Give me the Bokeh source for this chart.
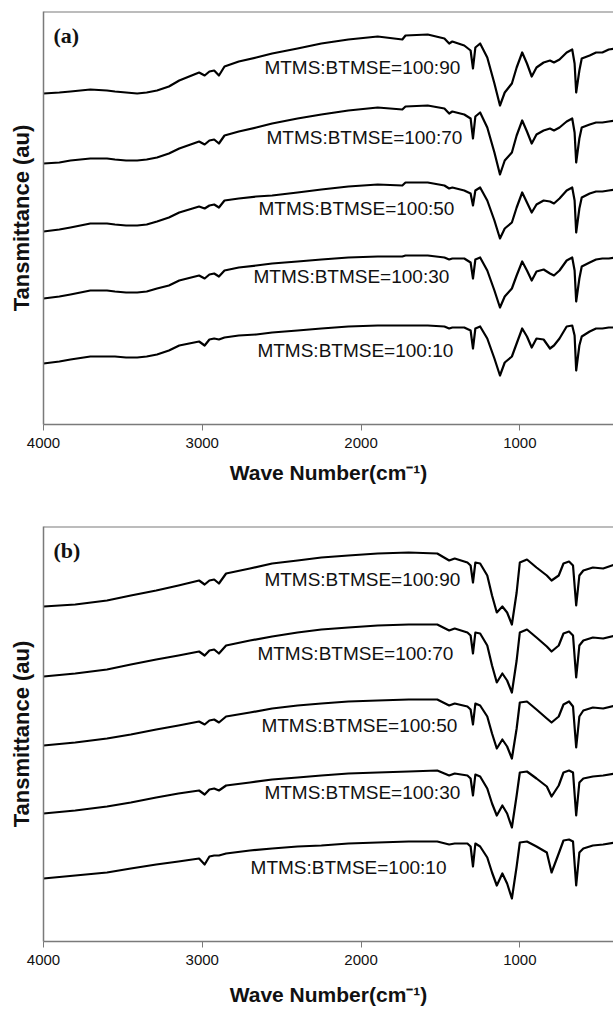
from bokeh.plotting import figure
from bokeh.models import Range1d, FixedTicker, Span, Label
from bokeh.layouts import column
from bokeh.embed import file_html
from bokeh.resources import INLINE

# ---------------- data ----------------
series_names = ["MTMS:BTMSE=100:90", "MTMS:BTMSE=100:70", "MTMS:BTMSE=100:50",
                "MTMS:BTMSE=100:30", "MTMS:BTMSE=100:10"]
x_ticks = [4000, 3000, 2000, 1000]

# panel (a): wave numbers (cm-1) and stacked transmittance (au)
wn_a = [4000, 3900, 3830, 3705, 3600, 3550, 3480, 3410, 3350, 3285, 3210, 3145, 3020,
        2985, 2955, 2925, 2895, 2860, 2770, 2660, 2560, 2400, 2250, 2080, 1895,
        1740, 1720, 1580, 1475, 1445, 1425, 1350, 1310, 1295, 1280, 1250, 1205, 1160,
        1125, 1095, 1050, 1020, 985, 955, 925, 895, 850, 810, 785, 750, 705, 670, 655,
        645, 625, 610, 560, 520, 480, 440, 400]
a_90 = [331, 332, 333, 335, 334, 333, 332, 331, 332, 334, 338, 344, 352, 349, 353, 354,
        349, 358, 363, 367, 371, 376, 381, 385, 388,
        385, 389, 390, 386, 381, 383, 379, 374, 356, 377, 381, 367, 341, 319, 332, 341,
        357, 372, 361, 348, 357, 362, 364, 362, 365, 372, 375, 361, 332, 354, 366, 369,
        372, 372, 375, 376]
a_70 = [261, 262, 264, 266, 266, 265, 264, 264, 265, 267, 271, 276, 283, 280, 284, 285,
        281, 289, 293, 297, 301, 306, 310, 314, 317,
        315, 318, 319, 316, 311, 313, 310, 306, 286, 308, 312, 297, 272, 250, 264, 272,
        289, 304, 293, 281, 290, 294, 296, 294, 297, 303, 306, 292, 262, 286, 297, 300,
        302, 302, 303, 304]
a_50 = [193, 195, 197, 201, 201, 200, 199, 199, 200, 203, 207, 212, 218, 216, 219, 220,
        217, 224, 226, 228, 229, 232, 235, 238, 240,
        239, 242, 242, 239, 236, 237, 234, 231, 219, 234, 237, 224, 204, 186, 196, 202,
        217, 232, 222, 212, 220, 224, 223, 221, 226, 234, 237, 224, 192, 216, 227, 231,
        233, 233, 234, 235]
a_30 = [126, 128, 130, 134, 134, 133, 132, 132, 133, 136, 139, 144, 149, 146, 150, 151,
        148, 154, 157, 159, 161, 163, 165, 167, 168,
        168, 169, 169, 167, 165, 166, 166, 162, 146, 165, 167, 154, 134, 117, 128, 136,
        149, 163, 154, 144, 153, 155, 151, 149, 154, 164, 167, 154, 123, 146, 158, 162,
        165, 166, 166, 167]
a_10 = [61, 63, 65, 68, 68, 68, 67, 67, 68, 70, 74, 79, 83, 79, 85, 86, 85, 87, 89, 90,
        92, 94, 96, 98, 99,
        99, 99, 99, 98, 96, 97, 97, 94, 76, 96, 98, 86, 66, 49, 62, 68, 81, 96, 88, 77,
        86, 85, 76, 79, 86, 98, 99, 89, 54, 79, 88, 93, 96, 96, 97, 97]

# panel (b)
wn_b = [4000, 3800, 3600, 3450, 3290, 3150, 3020, 2985, 2955, 2925, 2895, 2850, 2700,
        2560, 2400, 2250, 2080, 1895, 1700, 1520,
        1445, 1410, 1330, 1310, 1295, 1280, 1250, 1205, 1175, 1145, 1110, 1080, 1050,
        1020, 1000, 955, 895, 830, 800, 755, 725, 690, 665, 645, 625, 600, 540, 475, 400]
b_90 = [335, 337, 341, 346, 351, 356, 361, 357, 361, 362, 358, 368, 373, 378, 381, 384,
        386, 388, 389, 388,
        381, 383, 379, 376, 359, 379, 378, 366, 346, 329, 335, 329, 317, 349, 379, 382,
        374, 366, 361, 366, 378, 380, 376, 336, 366, 371, 374, 373, 377]
b_70 = [265, 268, 272, 277, 282, 286, 290, 286, 291, 292, 288, 296, 301, 305, 309, 312,
        314, 316, 317, 317,
        311, 313, 309, 306, 288, 309, 308, 296, 276, 259, 268, 261, 249, 281, 309, 312,
        304, 295, 290, 296, 308, 310, 306, 264, 296, 301, 304, 303, 306]
b_50 = [196, 199, 203, 207, 212, 216, 220, 217, 221, 222, 219, 225, 229, 233, 236, 238,
        240, 241, 242, 242,
        236, 238, 235, 232, 217, 238, 236, 225, 208, 193, 202, 195, 183, 213, 239, 240,
        232, 223, 219, 225, 237, 240, 235, 194, 225, 231, 234, 233, 236]
b_30 = [128, 131, 135, 139, 144, 148, 151, 147, 152, 153, 151, 156, 159, 162, 164, 166,
        168, 169, 170, 171,
        166, 168, 166, 163, 146, 167, 165, 153, 138, 126, 136, 128, 114, 146, 169, 170,
        163, 155, 145, 156, 169, 171, 169, 126, 159, 163, 165, 166, 168]
b_10 = [63, 66, 69, 73, 77, 80, 83, 77, 85, 86, 86, 88, 91, 93, 95, 96, 98, 99, 100, 100,
        97, 98, 98, 95, 75, 98, 95, 84, 69, 56, 68, 58, 43, 75, 99, 100, 95, 89, 69, 88,
        101, 102, 100, 56, 89, 93, 96, 97, 99]

# ---------------- layout constants ----------------
label_x_a = [1375, 1362, 1412, 1444, 1419]
label_y_a = [357, 287, 216, 148, 74]
label_x_b = [1375, 1419, 1394, 1375, 1462]
label_y_b = [362, 288, 216, 149, 74]

AXIS_GRAY = "#7a7a7a"


def make_panel(tag, wn, curves, lx, ly, y_top, height, top, bottom, title_standoff):
    p = figure(width=613, height=height, output_backend="svg", toolbar_location=None,
               x_range=Range1d(4000, 410), y_range=Range1d(0, y_top),
               min_border_left=43, min_border_right=0, min_border_top=top,
               min_border_bottom=bottom)
    p.outline_line_color = None
    p.xgrid.visible = False
    p.ygrid.visible = False
    p.background_fill_color = "white"
    p.border_fill_color = "white"

    for ys in curves:
        p.line(wn, ys, line_color="black", line_width=2.2, line_join="round")

    for name, x, y in zip(series_names, lx, ly):
        p.add_layout(Label(x=x, y=y, text=name, text_align="right", text_baseline="middle",
                           text_font="Liberation Sans", text_font_size="19px",
                           text_color="#111111"))

    p.add_layout(Label(x=3937, y=y_top - 24, text=tag, text_align="left",
                       text_baseline="middle", text_font="Liberation Serif",
                       text_font_style="bold", text_font_size="22px",
                       text_color="#111111"))

    p.add_layout(Span(location=y_top, dimension="width", line_color=AXIS_GRAY,
                      line_width=2))

    xa = p.xaxis[0]
    xa.ticker = FixedTicker(ticks=x_ticks)
    xa.axis_line_color = AXIS_GRAY
    xa.axis_line_width = 1.5
    xa.major_tick_line_color = AXIS_GRAY
    xa.major_tick_out = 6
    xa.major_tick_in = 0
    xa.minor_tick_line_color = None
    xa.major_label_text_font = "Liberation Sans"
    xa.major_label_text_font_size = "15px"
    xa.major_label_text_color = "#111111"
    xa.major_label_standoff = 7
    xa.axis_label = "Wave Number(cm\u207b\u00b9)"
    xa.axis_label_text_font = "Liberation Sans"
    xa.axis_label_text_font_style = "bold"
    xa.axis_label_text_font_size = "21px"
    xa.axis_label_text_color = "#111111"
    xa.axis_label_standoff = title_standoff

    ya = p.yaxis[0]
    ya.ticker = FixedTicker(ticks=[])
    ya.axis_line_color = AXIS_GRAY
    ya.axis_line_width = 1.5
    ya.major_tick_line_color = None
    ya.minor_tick_line_color = None
    ya.axis_label = "Tansmittance (au)"
    ya.axis_label_text_font = "Liberation Sans"
    ya.axis_label_text_font_style = "bold"
    ya.axis_label_text_font_size = "22px"
    ya.axis_label_text_color = "#111111"
    ya.axis_label_standoff = 10
    return p


pa = make_panel("(a)", wn_a, [a_90, a_70, a_50, a_30, a_10], label_x_a, label_y_a,
                413, 500, 11, 76, 10)
pb = make_panel("(b)", wn_b, [b_90, b_70, b_50, b_30, b_10], label_x_b, label_y_b,
                415, 509, 26, 68, 15)

layout = column(pa, pb, spacing=0)
open("out.html", "w").write(file_html(layout, INLINE))
